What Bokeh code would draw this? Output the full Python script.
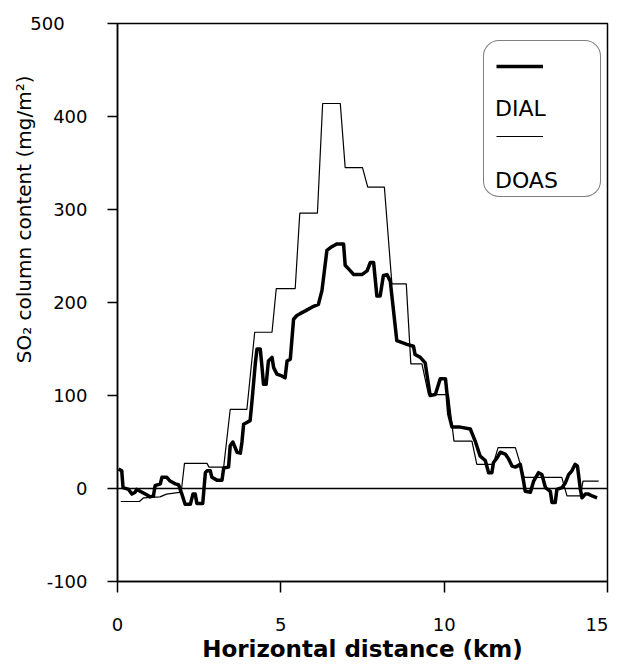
from bokeh.plotting import figure
from bokeh.models import FixedTicker, Span, Legend, LegendItem, Title
from bokeh.embed import file_html
from bokeh.resources import INLINE

# ---- data ----
dial_x = [0.03, 0.13, 0.17, 0.34, 0.44, 0.54, 0.59, 0.85, 1.00, 1.10, 1.15, 1.31, 1.36, 1.51,
          1.61, 1.77, 1.87, 1.97, 2.07, 2.23, 2.31, 2.38, 2.43, 2.61, 2.69, 2.74, 2.84, 2.89,
          3.04, 3.20, 3.25, 3.40, 3.45, 3.53, 3.66, 3.76, 3.81, 3.86, 3.96, 4.06, 4.12, 4.22,
          4.27, 4.37, 4.42, 4.47, 4.55, 4.62, 4.73, 4.78, 4.88, 5.03, 5.13, 5.19, 5.29, 5.39,
          5.49, 5.59, 5.75, 5.95, 6.15, 6.26, 6.41, 6.56, 6.72, 6.92, 6.97, 7.13, 7.23, 7.48,
          7.64, 7.74, 7.84, 7.94, 8.04, 8.14, 8.25, 8.35, 8.55, 8.86, 9.06, 9.11, 9.27, 9.42,
          9.47, 9.57, 9.73, 9.88, 10.04, 10.09, 10.14, 10.24, 10.49, 10.80, 10.95, 11.10, 11.26,
          11.36, 11.46, 11.51, 11.62, 11.72, 11.87, 11.97, 12.08, 12.18, 12.33, 12.43, 12.48,
          12.64, 12.74, 12.89, 12.99, 13.10, 13.25, 13.30, 13.40, 13.45, 13.61, 13.71, 13.81,
          13.91, 14.01, 14.08, 14.17, 14.22, 14.32, 14.42, 14.53, 14.68]
dial_y = [21, 19, 1, -1, -6, -4, -1, -6, -9, -8, 3, 5, 12, 12,
          8, 5, 4, -6, -17, -17, -6, -6, -16, -16, 17, 19, 19, 12,
          9, 9, 22, 23, 46, 50, 39, 38, 50, 69, 71, 73, 95, 135,
          150, 150, 132, 112, 112, 137, 141, 130, 123, 121, 119, 137, 139, 182,
          186, 188, 191, 195, 198, 213, 256, 260, 263, 263, 240, 234, 230, 230,
          234, 243, 243, 207, 207, 229, 230, 223, 159, 155, 153, 144, 141, 135,
          123, 100, 101, 118, 118, 101, 80, 66, 66, 64, 51, 35, 30,
          17, 17, 28, 33, 39, 37, 32, 24, 23, 26, 8, -3,
          -4, 8, 17, 15, 1, -3, -15, -15, -1, 1, 6, 15,
          19, 26, 24, -1, -10, -6, -6, -8, -10]

doas_x = [0.10, 0.67, 0.80, 1.30, 1.50, 1.95, 2.05, 2.74, 2.80, 3.25, 3.45, 3.96, 4.20, 4.73,
          4.86, 5.44, 5.58, 6.12, 6.28, 6.82, 6.97, 7.50, 7.66, 8.17, 8.40, 8.84, 8.98, 9.32,
          9.52, 10.13, 10.30, 10.85, 11.00, 11.50, 11.65, 12.18, 12.45, 13.60, 13.76, 14.17,
          14.25, 14.73]
doas_y = [-14, -14, -10, -9, -6, -4, 27, 27, 23, 23, 85, 85, 168, 168,
          215, 215, 296, 296, 414, 414, 345, 345, 324, 324, 220, 220, 134, 134,
          101, 101, 51, 51, 26, 26, 44, 44, 12, 12, -8, -8,
          8, 8]

x_ticks = [0, 5, 10, 15]
y_ticks = [-100, 0, 100, 200, 300, 400, 500]
series_names = ["DIAL", "DOAS"]

FONT = "DejaVu Sans"

p = figure(width=617, height=665, x_range=(0, 15), y_range=(-100, 500),
           output_backend="svg", toolbar_location=None,
           min_border_left=117, min_border_right=10, min_border_top=23, min_border_bottom=84)
p.background_fill_color = "white"
p.border_fill_color = "white"
p.outline_line_color = "black"
p.outline_line_width = 1.5
p.grid.visible = False

# axes
xa = p.xaxis[0]
xa.ticker = FixedTicker(ticks=x_ticks)
xa.major_label_overrides = {15: "15\u2002"}
xa.minor_tick_line_color = None
xa.major_tick_in = 0
xa.major_tick_out = 11
xa.major_tick_line_width = 1.5
xa.axis_line_width = 1.5
xa.major_label_standoff = 21
xa.major_label_text_font = FONT
xa.major_label_text_font_size = "18px"
xa.major_label_text_color = "black"

ya = p.yaxis[0]
ya.ticker = FixedTicker(ticks=y_ticks)
ya.major_label_overrides = {500: "500\u2007\u2007", -100: "-100"}
ya.minor_tick_line_color = None
ya.major_tick_in = 0
ya.major_tick_out = 10
ya.major_tick_line_width = 1.5
ya.axis_line_width = 1.5
ya.major_label_standoff = 20
ya.major_label_text_font = FONT
ya.major_label_text_font_size = "18px"
ya.major_label_text_color = "black"

# axis titles
p.add_layout(Title(text="Horizontal distance (km)", align="center", vertical_align="top",
                   standoff=-4, text_font=FONT, text_font_size="23px",
                   text_font_style="bold", text_color="black"), "below")
p.add_layout(Title(text="SO\u2082 column content (mg/m\u00b2)", align="right", offset=52,
                   standoff=-16, text_font=FONT, text_font_size="20px",
                   text_font_style="normal", text_color="black"), "left")

# zero line
p.add_layout(Span(location=0, dimension="width", line_color="black", line_width=1.3))

r_dial = p.line(dial_x, dial_y, line_color="black", line_width=3.5, line_join="round")
r_doas = p.line(doas_x, doas_y, line_color="black", line_width=1.2)
r_blank = p.line([], [], line_alpha=0)

# legend box with line samples (sample above its name, as in the reference)
legend_lines = Legend(items=[
    LegendItem(label="", renderers=[r_dial]),
    LegendItem(label="", renderers=[r_blank]),
    LegendItem(label="", renderers=[r_doas]),
    LegendItem(label="", renderers=[r_blank]),
], location=(366, 384))
legend_lines.glyph_width = 47
legend_lines.glyph_height = 26
legend_lines.label_height = 26
legend_lines.label_width = 45
legend_lines.label_standoff = 0
legend_lines.spacing = 9
legend_lines.padding = 12
legend_lines.margin = 0
legend_lines.border_line_color = "black"
legend_lines.border_line_width = 1.5
legend_lines.border_radius = 16
legend_lines.background_fill_color = "white"
legend_lines.background_fill_alpha = 1
p.add_layout(legend_lines, "center")

legend_names = Legend(items=[
    LegendItem(label=series_names[0], renderers=[r_dial]),
    LegendItem(label=series_names[1], renderers=[r_doas]),
], location=(378, 388))
legend_names.glyph_width = 0
legend_names.glyph_height = 26
legend_names.label_height = 26
legend_names.label_standoff = 0
legend_names.spacing = 46
legend_names.padding = 0
legend_names.margin = 0
legend_names.border_line_color = None
legend_names.background_fill_alpha = 0
legend_names.label_text_font = FONT
legend_names.label_text_font_size = "22px"
legend_names.label_text_color = "black"
p.add_layout(legend_names, "center")

open("out.html", "w").write(file_html(p, INLINE))
